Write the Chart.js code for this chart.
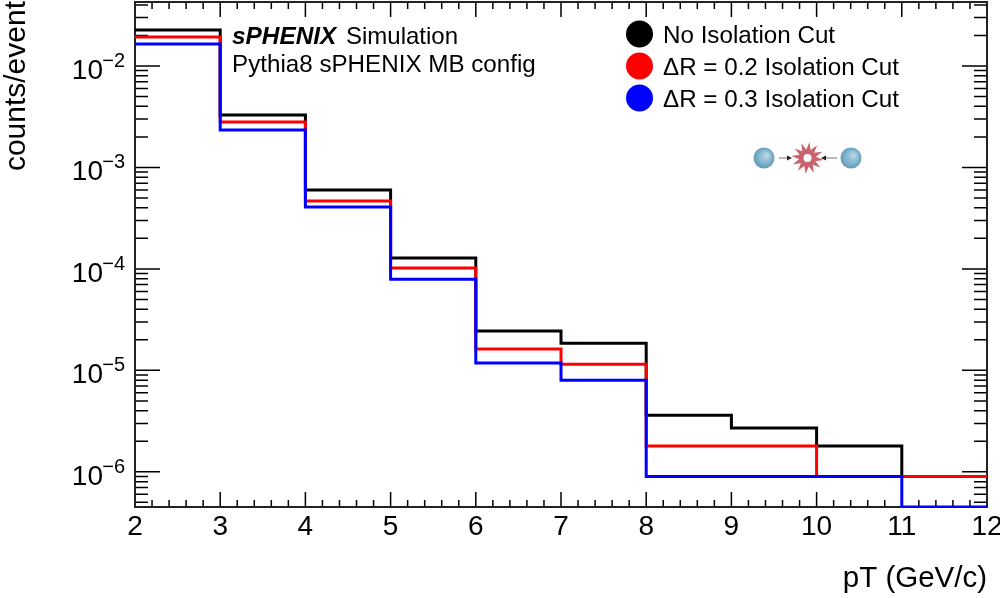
<!DOCTYPE html>
<html>
<head>
<meta charset="utf-8">
<title>counts/event vs pT</title>
<script src="https://cdn.jsdelivr.net/npm/chart.js@4"></script>
<style>
    html, body { margin: 0; padding: 0; background: #fff; }
    canvas { display: block; }
</style>
</head>
<body>
<canvas id="chart" width="1000" height="598"></canvas>
<script>
const binEdges = [2, 3, 4, 5, 6, 7, 8, 9, 10, 11, 12];
const noCutValues = [0.0226, 3.29e-3, 5.98e-4, 1.28e-4, 2.44e-5, 1.85e-5, 3.6e-6, 2.7e-6, 1.8e-6, 9e-7];
const dr02Values = [0.0193, 2.8e-3, 4.67e-4, 1.02e-4, 1.62e-5, 1.15e-5, 1.8e-6, 1.8e-6, 9e-7, 9e-7];
const dr03Values = [0.0165, 2.34e-3, 4.07e-4, 7.9e-5, 1.18e-5, 8e-6, 9e-7, 9e-7, 9e-7, 4.5e-7];

const seriesLabels = ['No Isolation Cut', '\u0394R = 0.2 Isolation Cut', '\u0394R = 0.3 Isolation Cut'];
const seriesColors = ['#000000', '#ff0000', '#0000ff'];

const xTickLabels = ['2', '3', '4', '5', '6', '7', '8', '9', '10', '11', '12'];
const yDecades = [-6, -5, -4, -3, -2];
const yExtraDecades = [-7, -6, -5, -4, -3, -2];
const yMultipliers = [2, 3, 4, 5, 6, 7, 8, 9];

const xMin = 2, xMax = 12;
const yMin = 4.5e-7, yMax = 0.0427;

const FONT = '"Liberation Sans", Arial, sans-serif';

// last bin has to run on to the right edge
function toSteps(values) {
    const points = values.map((v, i) => ({x: binEdges[i], y: v}));
    points.push({x: binEdges[values.length], y: values[values.length - 1]});
    return points;
}

function histDataset(index, values) {
    return {
        label: seriesLabels[index],
        data: toSteps(values),
        borderColor: seriesColors[index],
        backgroundColor: seriesColors[index],
        borderWidth: 3,
        pointRadius: 0,
        stepped: true,
        fill: false,
        order: 3 - index
    };
}

// root style ticks: inside the frame on all four sides
const frameTicks = {
    id: 'frameTicks',
    beforeDatasetsDraw(chart) {
        const {ctx, chartArea: area, scales: {x, y}} = chart;
        ctx.save();
        ctx.strokeStyle = '#000';
        ctx.lineWidth = 1.5;
        ctx.beginPath();

        for (let i = 0; i <= (xMax - xMin) * 5; i++) {
            const value = xMin + i * 0.2;
            const px = x.getPixelForValue(value);
            const len = i % 5 === 0 ? 15 : 7;
            ctx.moveTo(px, area.bottom);
            ctx.lineTo(px, area.bottom - len);
            ctx.moveTo(px, area.top);
            ctx.lineTo(px, area.top + len);
        }

        yExtraDecades.forEach(decade => {
            yMultipliers.concat(1).forEach(m => {
                const value = m * Math.pow(10, decade);
                if (value < yMin || value > yMax) {
                    return;
                }
                const py = y.getPixelForValue(value);
                const len = m === 1 ? 25 : 13;
                ctx.moveTo(area.left, py);
                ctx.lineTo(area.left + len, py);
                ctx.moveTo(area.right, py);
                ctx.lineTo(area.right - len, py);
            });
        });
        ctx.stroke();

        ctx.lineWidth = 2;
        ctx.strokeStyle = '#222';
        ctx.strokeRect(area.left, area.top, area.right - area.left, area.bottom - area.top);
        ctx.restore();
    }
};

const axisText = {
    id: 'axisText',
    afterDraw(chart) {
        const {ctx, chartArea: area, scales: {x, y}} = chart;
        ctx.save();
        ctx.fillStyle = '#000';
        ctx.textBaseline = 'alphabetic';

        ctx.font = '28px ' + FONT;
        ctx.textAlign = 'center';
        binEdges.forEach((edge, i) => {
            ctx.fillText(xTickLabels[i], x.getPixelForValue(edge), 535);
        });

        yDecades.forEach(decade => {
            const py = y.getPixelForValue(Math.pow(10, decade));
            ctx.textAlign = 'right';
            ctx.font = '20px ' + FONT;
            ctx.fillText('\u2212' + Math.abs(decade), 125, py + 1);
            ctx.font = '28px ' + FONT;
            ctx.fillText('10', 103, py + 13);
        });

        ctx.textAlign = 'right';
        ctx.font = '29.5px ' + FONT;
        ctx.fillText('pT (GeV/c)', area.right, 587);

        ctx.save();
        ctx.translate(25, 0);
        ctx.rotate(-Math.PI / 2);
        ctx.textAlign = 'right';
        ctx.font = '30px ' + FONT;
        ctx.fillText('counts/event', -1, 0);
        ctx.restore();

        ctx.textAlign = 'left';
        ctx.font = 'italic bold 24.4px ' + FONT;
        ctx.fillText('sPHENIX', 232, 44);
        ctx.font = '24px ' + FONT;
        ctx.fillText('Simulation', 346, 44);
        ctx.font = '24.2px ' + FONT;
        ctx.fillText('Pythia8 sPHENIX MB config', 232, 72);

        // legend
        const legendY = [34, 66, 98];
        seriesLabels.forEach((label, i) => {
            ctx.fillStyle = seriesColors[i];
            ctx.beginPath();
            ctx.arc(639.5, legendY[i], 13.5, 0, Math.PI * 2);
            ctx.fill();
            ctx.fillStyle = '#000';
            ctx.font = '24.2px ' + FONT;
            ctx.fillText(label, 663, legendY[i] + 9);
        });
        ctx.restore();
    }
};

// small p+p collision logo
const collisionLogo = {
    id: 'collisionLogo',
    afterDraw(chart) {
        const {ctx} = chart;
        const cy = 158;
        ctx.save();

        [764, 851].forEach(cx => {
            const grad = ctx.createRadialGradient(cx + 3, cy - 3, 1, cx, cy, 11);
            grad.addColorStop(0, '#b5d6e4');
            grad.addColorStop(0.6, '#7fb2cc');
            grad.addColorStop(1, '#5f97b4');
            ctx.fillStyle = grad;
            ctx.beginPath();
            ctx.arc(cx, cy, 10.5, 0, Math.PI * 2);
            ctx.fill();
        });

        const sx = 807.5;
        const spikes = 12;
        ctx.fillStyle = '#c9636d';
        ctx.beginPath();
        for (let i = 0; i < spikes * 2; i++) {
            const r = i % 2 === 0 ? 16 : 8.5;
            const a = i * Math.PI / spikes + 0.12;
            ctx.lineTo(sx + r * Math.cos(a), cy + r * Math.sin(a));
        }
        ctx.closePath();
        ctx.fill();
        ctx.fillStyle = '#fff';
        ctx.beginPath();
        ctx.arc(sx, cy, 4, 0, Math.PI * 2);
        ctx.fill();

        ctx.strokeStyle = '#777';
        ctx.fillStyle = '#222';
        ctx.lineWidth = 1;
        [[779, 789, 1], [837, 824, -1]].forEach(arrow => {
            ctx.beginPath();
            ctx.moveTo(arrow[0], cy);
            ctx.lineTo(arrow[1], cy);
            ctx.stroke();
            ctx.beginPath();
            ctx.moveTo(arrow[1] + 3 * arrow[2], cy);
            ctx.lineTo(arrow[1] - 2 * arrow[2], cy - 2.5);
            ctx.lineTo(arrow[1] - 2 * arrow[2], cy + 2.5);
            ctx.closePath();
            ctx.fill();
        });
        ctx.restore();
    }
};

new Chart(document.getElementById('chart'), {
    type: 'line',
    data: {
        datasets: [
            histDataset(0, noCutValues),
            histDataset(1, dr02Values),
            histDataset(2, dr03Values)
        ]
    },
    options: {
        responsive: false,
        animation: false,
        layout: {
            padding: {left: 135, right: 13, top: 2, bottom: 91}
        },
        scales: {
            x: {
                display: false,
                type: 'linear',
                min: xMin,
                max: xMax
            },
            y: {
                display: false,
                type: 'logarithmic',
                min: yMin,
                max: yMax
            }
        },
        plugins: {
            legend: {display: false},
            tooltip: {enabled: false}
        }
    },
    plugins: [frameTicks, axisText, collisionLogo]
});
</script>
</body>
</html>
